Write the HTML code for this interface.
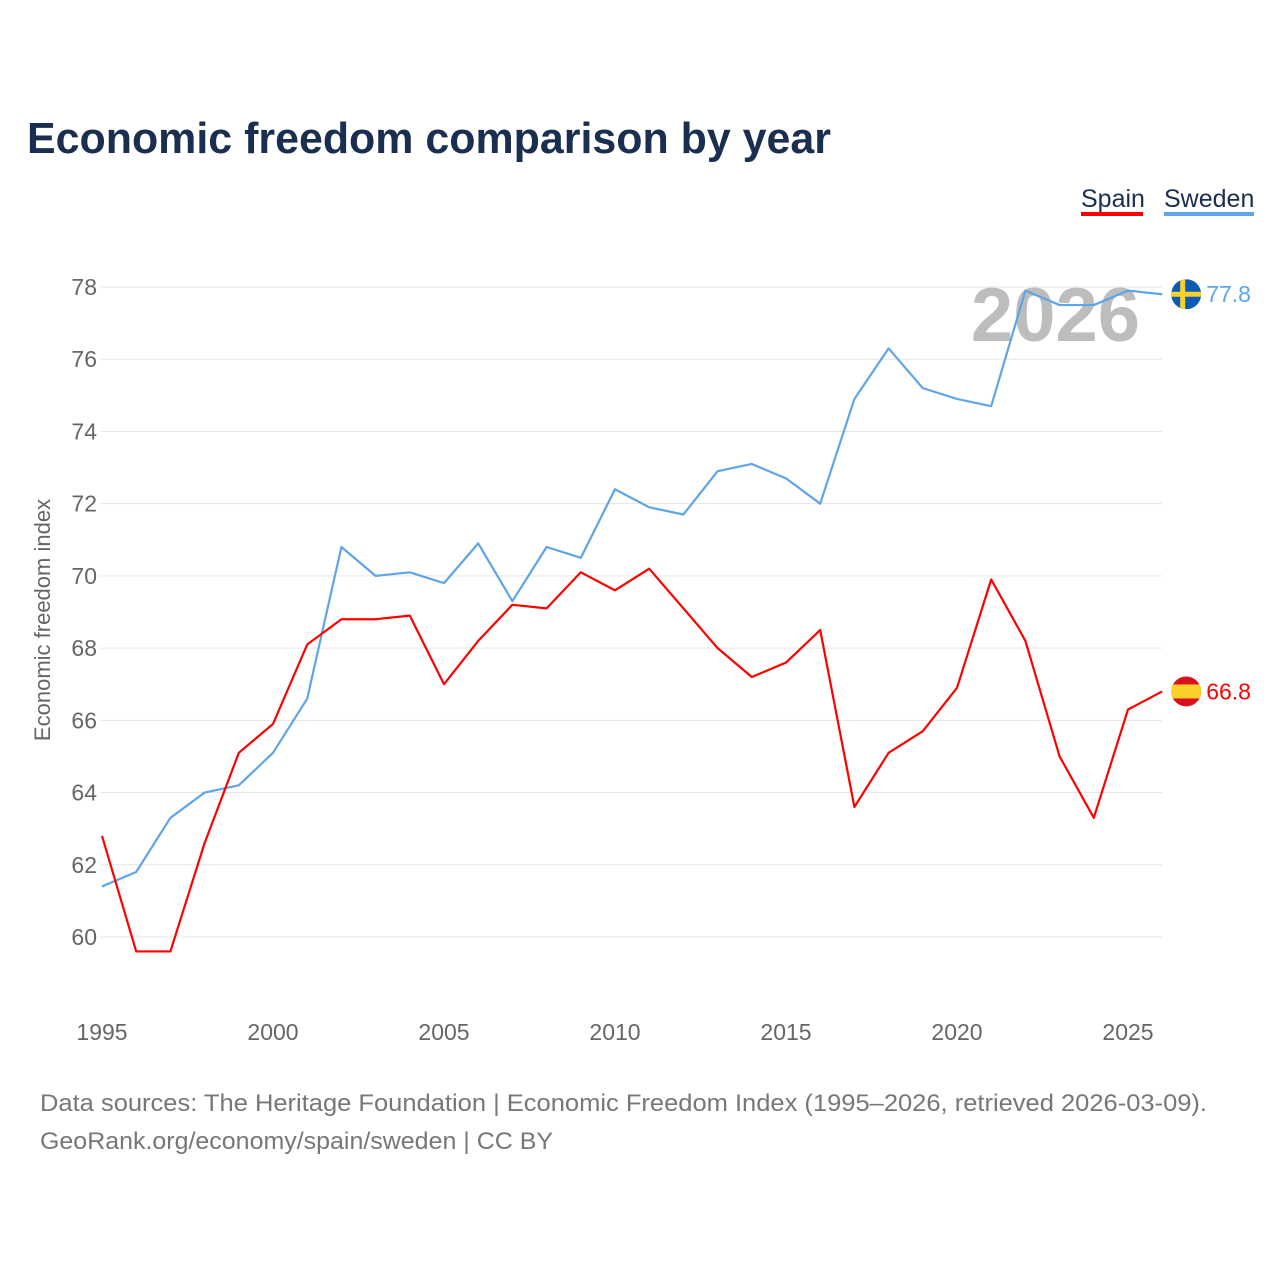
<!DOCTYPE html>
<html><head><meta charset="utf-8"><style>
html,body{margin:0;padding:0;background:#fff;}
body{width:1280px;height:1280px;overflow:hidden;font-family:"Liberation Sans",sans-serif;}
</style></head><body>
<svg id="chart" width="1280" height="1280" xmlns="http://www.w3.org/2000/svg" font-family="Liberation Sans, sans-serif">
<text x="27" y="153" font-size="44" font-weight="bold" fill="#1a2e4f" textLength="804" lengthAdjust="spacingAndGlyphs">Economic freedom comparison by year</text>
<g>
<g><text x="1081" y="207" font-size="25" fill="#1a2e4f">Spain</text><rect x="1081" y="212" width="62" height="4" fill="#ff0000"/></g>
<g><text x="1164" y="207" font-size="25" fill="#1a2e4f">Sweden</text><rect x="1164" y="212" width="90" height="4" fill="#5ea5e8"/></g>
</g>
<g id="grid"></g>
<g id="yticks"></g>
<g id="xticks"></g>
<text x="1140" y="341" font-size="76" font-weight="bold" fill="#bdbdbd" text-anchor="end">2026</text>
<text transform="translate(50,620) rotate(-90)" font-size="22" fill="#666" text-anchor="middle">Economic freedom index</text>
<g id="series"></g>
<text x="40" y="1111" font-size="24" fill="#777" textLength="1167" lengthAdjust="spacingAndGlyphs">Data sources: The Heritage Foundation | Economic Freedom Index (1995–2026, retrieved 2026-03-09).</text>
<text x="40" y="1149" font-size="24" fill="#777" textLength="513" lengthAdjust="spacingAndGlyphs">GeoRank.org/economy/spain/sweden | CC BY</text>
</svg>
<script>
const years = [1995,1996,1997,1998,1999,2000,2001,2002,2003,2004,2005,2006,2007,2008,2009,2010,2011,2012,2013,2014,2015,2016,2017,2018,2019,2020,2021,2022,2023,2024,2025,2026];
const spain = [62.8,59.6,59.6,62.6,65.1,65.9,68.1,68.8,68.8,68.9,67.0,68.2,69.2,69.1,70.1,69.6,70.2,69.1,68.0,67.2,67.6,68.5,63.6,65.1,65.7,66.9,69.9,68.2,65.0,63.3,66.3,66.8];
const sweden = [61.4,61.8,63.3,64.0,64.2,65.1,66.6,70.8,70.0,70.1,69.8,70.9,69.3,70.8,70.5,72.4,71.9,71.7,72.9,73.1,72.7,72.0,74.9,76.3,75.2,74.9,74.7,77.9,77.5,77.5,77.9,77.8];
const yTicks = [60,62,64,66,68,70,72,74,76,78];
const xTicks = [1995,2000,2005,2010,2015,2020,2025];
const NS='http://www.w3.org/2000/svg';
const x = v => 102 + (v-1995)*34.2;
const y = v => 937 - (v-60)*36.11;
function mk(tag, parent, attrs){const e=document.createElementNS(NS,tag);for(const k in attrs)e.setAttribute(k,attrs[k]);parent.appendChild(e);return e;}
const grid=document.getElementById('grid'), yt=document.getElementById('yticks'), xt=document.getElementById('xticks'), ser=document.getElementById('series');
yTicks.forEach(t=>{
  const l=mk('line',grid,{x1:100,x2:1162,y1:y(t),y2:y(t),stroke:'#e6e6e6','stroke-width':1});
  
  
  const tx=mk('text',yt,{x:97,y:y(t)+8,'font-size':23,fill:'#666','text-anchor':'end'});
  tx.textContent=t;
  
  
});
xTicks.forEach(t=>{
  const tx=mk('text',xt,{x:x(t),y:1040,'font-size':23,fill:'#666','text-anchor':'middle'});
  tx.textContent=t;
  
  
});
function line(vals,color,name){
  const p=mk('polyline',ser,{points:vals.map((v,i)=>x(years[i])+','+y(v)).join(' '),fill:'none',stroke:color,'stroke-width':2.2,'stroke-linejoin':'round'});
  
  
}
line(sweden,'#5ea5e8','sweden');
line(spain,'#ff0000','spain');
const lastS=sweden[sweden.length-1], lastE=spain[spain.length-1], lx=x(years[years.length-1])+24;
const sw=mk('g',ser,{});


const cpS=mk('clipPath',sw,{id:'cs'}); mk('circle',cpS,{cx:lx,cy:y(lastS),r:15});
const gS=mk('g',sw,{'clip-path':'url(#cs)'});
mk('rect',gS,{x:lx-15,y:y(lastS)-15,width:30,height:30,fill:'#0a5bb5'});
mk('rect',gS,{x:lx-15,y:y(lastS)-2.5,width:30,height:5,fill:'#f8d12b'});
mk('rect',gS,{x:lx-6,y:y(lastS)-15,width:5,height:30,fill:'#f8d12b'});
const ts=mk('text',ser,{x:lx+20,y:y(lastS)+8,'font-size':23,fill:'#5ea5e8'}); ts.textContent=lastS.toFixed(1);


const es=mk('g',ser,{});


const cpE=mk('clipPath',es,{id:'ce'}); mk('circle',cpE,{cx:lx,cy:y(lastE),r:15});
const gE=mk('g',es,{'clip-path':'url(#ce)'});
mk('rect',gE,{x:lx-15,y:y(lastE)-15,width:30,height:30,fill:'#d8111f'});
mk('rect',gE,{x:lx-15,y:y(lastE)-7,width:30,height:14,fill:'#f8d12b'});
const te=mk('text',ser,{x:lx+20,y:y(lastE)+8,'font-size':23,fill:'#ff0000'}); te.textContent=lastE.toFixed(1);


</script>
</body></html>
